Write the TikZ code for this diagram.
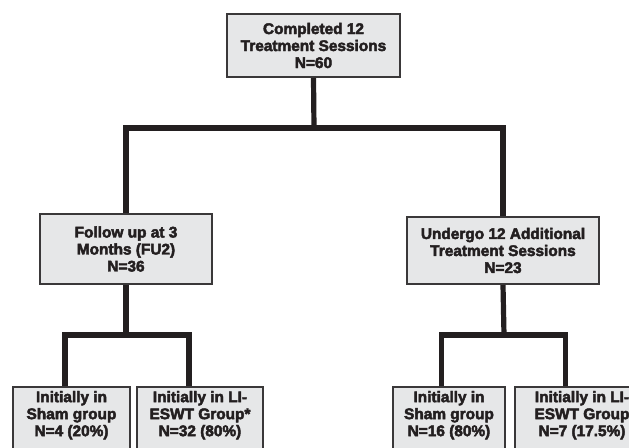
\documentclass[tikz,border=0pt]{standalone}
\usepackage{fontspec}
\setmainfont{Liberation Sans}[BoldFeatures={FakeBold=3}]
\definecolor{ink}{HTML}{231F20}
\definecolor{boxfill}{HTML}{E6E7E8}
\definecolor{boxline}{HTML}{3A3839}
\tikzset{
  flowbox/.style={draw=boxline, line width=2pt, fill=boxfill, rectangle,
    align=center, inner sep=0pt, text=ink,
    font=\fontsize{15.4}{17}\selectfont\bfseries},
  conn/.style={draw=ink, line width=5.2pt, line join=miter}
}
\begin{document}
\begin{tikzpicture}[x=1pt,y=-1pt]
\useasboundingbox (0,0) rectangle (629,447);
\clip (0,0) rectangle (629,447);
\node[flowbox, minimum width=173pt, minimum height=63pt] (top) at (313.5,45.5)
  {Completed 12\\Treatment Sessions\\N=60};
\node[flowbox, minimum width=172pt, minimum height=70pt] (midL) at (126,249)
  {Follow up at 3\hspace{1em}\\Months (FU2)\\N=36};
\node[flowbox, minimum width=192pt, minimum height=67pt] (midR) at (503,250.5)
  {Undergo 12 Additional\\Treatment Sessions\\N=23};
\node[flowbox, minimum width=117pt, minimum height=90pt, anchor=north] (bL1) at (71.5,386)
  {};
\node[flowbox, minimum width=126pt, minimum height=90pt, anchor=north] (bL2) at (200,386)
  {};
\node[flowbox, minimum width=112pt, minimum height=90pt, anchor=north] (bR1) at (449,386)
  {};
\node[flowbox, minimum width=134pt, minimum height=90pt, anchor=north] (bR2) at (582,386)
  {};
\node[flowbox, draw=none, fill=none, anchor=north] (tL1) at (bL1.north |- 0,390)
  {Initially in\\Sham group\\N=4 (20\%)};
\node[flowbox, draw=none, fill=none, anchor=north] (tL2) at (bL2.north |- 0,390)
  {Initially in LI-\\ESWT Group*\\N=32 (80\%)};
\node[flowbox, draw=none, fill=none, anchor=north] (tR1) at (bR1.north |- 0,390)
  {Initially in\\Sham group\\N=16 (80\%)};
\node[flowbox, draw=none, fill=none, anchor=north] (tR2) at (bR2.north |- 0,390)
  {Initially in LI-\\ESWT Group\\N=7 (17.5\%)};
\coordinate (j1) at (314,128);
\coordinate (j2) at (126,335);
\coordinate (j3) at (504,335);
\draw[conn] (top.south) -- (j1);
\draw[conn] (midL.north) |- (j1) -| (midR.north);
\draw[conn] (midL.south) -- (j2);
\draw[conn] ([xshift=-6.5pt]bL1.north) |- (j2) -| ([xshift=-11pt]bL2.north);
\draw[conn] (midR.south) -- (j3);
\draw[conn] ([xshift=-7.5pt]bR1.north) |- (j3) -| ([xshift=-16.5pt]bR2.north);
\end{tikzpicture}
\end{document}
